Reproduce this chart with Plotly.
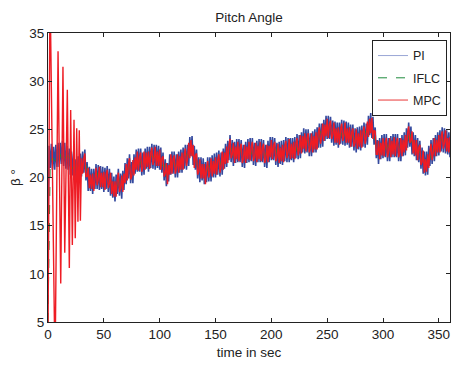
import plotly.graph_objects as go

# ---------------- data ----------------
pi_time = list(range(0, 361))  # 1-second samples
pi_values = [
    15.0, 23.3, 21.0, 23.5, 20.8, 23.2, 20.8, 23.4, 21.1, 23.6,
    21.1, 23.6, 21.4, 23.8, 21.2, 23.6, 20.9, 23.3, 20.8, 23.0,
    20.3, 22.7, 20.2, 22.5, 19.6, 21.9, 19.5, 22.2, 20.0, 22.5,
    20.1, 22.7, 20.5, 22.9, 19.7, 21.6, 18.6, 21.1, 18.6, 20.9,
    18.3, 20.9, 18.8, 21.4, 18.8, 21.3, 18.7, 21.2, 18.8, 21.1,
    18.5, 21.0, 18.8, 21.2, 18.5, 20.9, 18.1, 20.5, 17.9, 20.1,
    17.5, 20.3, 18.3, 20.9, 18.1, 20.4, 17.8, 20.7, 18.7, 21.5,
    19.3, 22.0, 19.9, 22.4, 19.4, 21.6, 19.4, 22.4, 20.4, 22.9,
    20.6, 23.0, 20.6, 23.0, 20.2, 22.6, 20.3, 23.0, 20.9, 23.2,
    20.6, 23.2, 21.0, 23.5, 20.9, 23.4, 20.8, 23.4, 21.0, 23.3,
    20.8, 23.1, 20.5, 22.6, 19.7, 21.9, 19.1, 21.5, 19.6, 22.4,
    20.3, 22.7, 20.4, 22.7, 20.0, 22.4, 20.0, 22.7, 20.5, 22.9,
    20.5, 23.1, 20.9, 23.4, 20.8, 23.4, 21.2, 24.2, 22.2, 24.3,
    21.3, 23.3, 20.8, 22.9, 19.9, 22.1, 19.5, 22.1, 19.7, 22.0,
    19.3, 21.6, 19.5, 22.1, 19.6, 22.1, 19.6, 22.3, 20.0, 22.5,
    20.0, 22.6, 20.3, 22.8, 20.1, 22.6, 20.3, 23.0, 20.9, 23.5,
    21.1, 23.8, 21.8, 24.4, 21.6, 23.9, 21.2, 23.7, 21.5, 24.0,
    21.6, 24.0, 21.6, 23.9, 21.1, 23.4, 21.0, 23.7, 21.5, 24.0,
    21.6, 24.1, 21.7, 24.1, 21.3, 23.6, 21.2, 23.8, 21.6, 24.0,
    21.6, 24.0, 21.6, 23.9, 21.1, 23.4, 21.0, 23.8, 21.6, 24.2,
    21.8, 24.2, 21.8, 24.1, 21.3, 23.6, 21.1, 23.7, 21.4, 23.8,
    21.3, 23.9, 21.7, 24.2, 21.6, 24.1, 21.6, 24.1, 21.8, 24.1,
    21.6, 24.2, 22.0, 24.5, 21.9, 24.4, 22.0, 24.7, 22.6, 25.1,
    22.5, 25.0, 22.6, 25.0, 22.2, 24.6, 22.2, 24.8, 22.6, 25.0,
    22.6, 25.2, 23.1, 25.6, 23.1, 25.6, 23.2, 26.0, 23.8, 26.4,
    24.0, 26.4, 24.0, 26.3, 23.6, 25.9, 23.3, 25.8, 23.4, 25.7,
    23.1, 25.7, 23.5, 26.0, 23.4, 25.9, 23.3, 25.8, 23.4, 25.7,
    23.1, 25.5, 23.2, 25.5, 22.8, 25.1, 22.6, 25.2, 22.9, 25.3,
    22.8, 25.4, 23.2, 25.7, 23.1, 25.6, 23.4, 26.4, 24.4, 26.7,
    24.1, 26.3, 23.4, 25.2, 22.0, 23.9, 21.4, 24.1, 21.9, 24.4,
    22.0, 24.5, 22.1, 24.5, 21.7, 24.1, 21.7, 24.3, 22.1, 24.5,
    22.1, 24.5, 22.1, 24.5, 21.7, 24.1, 21.7, 24.4, 22.2, 24.7,
    22.3, 25.1, 23.1, 25.7, 23.2, 25.3, 22.4, 24.7, 22.2, 24.4,
    21.8, 24.1, 21.6, 23.8, 20.9, 23.1, 20.4, 22.7, 20.2, 22.7,
    20.3, 23.3, 21.2, 23.9, 21.4, 24.1, 21.7, 24.4, 22.2, 24.7,
    22.3, 24.9, 22.7, 25.2, 22.6, 25.1, 22.5, 24.9, 22.4, 24.7,
    22.1,
]

iflc_time = list(range(0, 361, 2))  # 2-second samples
iflc_values = [
    5.0, 21.6, 22.1, 21.7, 22.4, 22.7, 22.0, 22.6, 22.0, 22.3,
    21.8, 20.9, 21.3, 20.4, 21.1, 21.0, 21.8, 21.3, 20.4, 19.3,
    19.8, 19.5, 20.5, 19.8, 20.1, 19.5, 20.1, 19.6, 19.7, 18.6,
    19.0, 19.0, 19.8, 18.8, 19.9, 20.2, 21.2, 20.5, 21.2, 21.1,
    22.1, 21.3, 21.9, 21.3, 22.1, 21.5, 22.3, 22.0, 22.6, 21.7,
    22.3, 21.2, 21.4, 20.1, 20.8, 21.2, 21.7, 21.1, 21.8, 21.2,
    22.0, 21.6, 22.5, 22.2, 23.4, 22.2, 22.1, 21.0, 21.3, 20.4,
    20.8, 20.2, 21.3, 20.6, 21.2, 20.9, 21.6, 21.2, 22.1, 21.6,
    22.6, 22.5, 23.3, 22.2, 22.7, 22.5, 22.9, 22.2, 22.8, 22.2,
    23.1, 22.4, 23.0, 22.1, 22.7, 22.5, 22.9, 22.2, 22.8, 22.3,
    23.3, 22.5, 23.0, 22.1, 22.6, 22.2, 23.0, 22.7, 23.4, 22.5,
    23.1, 22.7, 23.6, 23.0, 23.8, 23.4, 23.9, 23.3, 24.0, 23.3,
    24.1, 23.8, 24.8, 24.2, 25.0, 24.9, 25.3, 24.7, 25.1, 24.1,
    24.6, 24.2, 25.1, 24.3, 24.6, 24.0, 24.5, 23.9, 24.4, 23.6,
    24.3, 23.9, 24.8, 24.4, 25.6, 25.0, 24.7, 23.1, 23.2, 22.6,
    23.5, 22.8, 23.4, 22.7, 23.3, 23.0, 23.4, 22.8, 23.5, 22.9,
    23.8, 23.8, 24.9, 23.4, 23.4, 22.7, 22.9, 22.0, 22.2, 20.9,
    21.8, 21.9, 23.1, 22.7, 23.4, 23.2, 24.0, 23.7, 24.3, 23.1,
    23.3,
]

# MPC: start-up oscillation (turning points) followed by 1-second samples
mpc_time_start = [0, 1.8, 6.3, 9.0, 11.4, 13.4, 15.0, 17.3, 19.1, 20.3,
                  21.8, 23.3, 24.4, 25.7, 26.8, 28.0, 29.0, 30.0]
mpc_values_start = [3.0, 40.0, 0.0, 33.1, 9.0, 31.5, 12.2, 29.1, 10.6, 27.0,
                    13.0, 26.0, 13.7, 25.1, 15.4, 24.9, 15.5, 22.0]
mpc_time_run = list(range(31, 361))
mpc_values_run = [
    20.4, 22.0, 22.5, 20.1, 20.1, 21.0, 18.9, 20.3, 18.8,
    20.4, 18.6, 20.3, 21.0, 19.2, 19.8, 21.1, 19.0, 20.5, 19.0,
    20.6, 18.7, 20.3, 20.8, 18.9, 19.4, 20.5, 18.3, 19.6, 18.0,
    19.6, 18.0, 19.8, 20.5, 18.5, 18.9, 20.2, 18.5, 20.4, 19.4,
    21.4, 19.7, 21.4, 22.0, 19.8, 20.1, 21.8, 20.2, 22.1, 20.8,
    22.7, 20.7, 22.1, 22.6, 20.6, 21.1, 22.7, 20.8, 22.6, 21.1,
    22.7, 20.9, 22.5, 23.1, 21.3, 21.9, 23.2, 21.2, 22.7, 21.2,
    22.9, 20.8, 22.0, 22.2, 20.1, 20.4, 21.5, 19.3, 21.3, 20.3,
    22.4, 20.4, 21.9, 22.3, 20.4, 20.9, 22.4, 20.5, 22.2, 20.8,
    22.6, 20.8, 22.4, 23.0, 21.2, 21.9, 23.6, 22.0, 23.9, 22.2,
    23.4, 21.0, 22.3, 22.5, 20.3, 20.6, 21.9, 19.9, 21.4, 19.9,
    21.4, 19.3, 21.0, 21.7, 20.0, 20.6, 22.0, 20.1, 21.7, 20.4,
    22.1, 20.3, 21.8, 22.4, 20.5, 21.1, 22.7, 20.8, 22.6, 21.4,
    23.2, 21.5, 23.3, 24.0, 22.0, 22.4, 23.6, 21.5, 23.2, 21.9,
    23.7, 21.7, 23.1, 23.5, 21.5, 21.9, 23.4, 21.5, 23.2, 21.9,
    23.7, 21.8, 23.2, 23.7, 21.7, 22.1, 23.6, 21.6, 23.3, 21.9,
    23.7, 21.7, 23.1, 23.5, 21.5, 21.9, 23.4, 21.6, 23.3, 22.1,
    23.9, 21.9, 23.3, 23.7, 21.7, 22.1, 23.5, 21.5, 23.1, 21.7,
    23.4, 21.6, 23.2, 23.8, 22.0, 22.6, 24.0, 21.9, 23.5, 22.0,
    23.7, 21.9, 23.5, 24.1, 22.3, 22.9, 24.4, 22.5, 24.3, 23.0,
    24.6, 22.7, 24.1, 24.6, 22.6, 23.1, 24.6, 22.6, 24.3, 22.9,
    24.7, 22.9, 24.6, 25.2, 23.5, 24.1, 25.6, 23.8, 25.5, 24.3,
    26.1, 24.1, 25.5, 25.9, 24.0, 24.4, 25.7, 23.6, 25.1, 23.6,
    25.2, 23.4, 25.0, 25.6, 23.8, 24.4, 25.7, 23.6, 25.1, 23.6,
    25.2, 23.2, 24.7, 25.1, 23.2, 23.6, 25.0, 23.0, 24.6, 23.2,
    24.9, 23.1, 24.7, 25.3, 23.5, 24.1, 25.8, 24.2, 26.1, 24.6,
    26.2, 24.0, 24.9, 24.8, 22.4, 22.4, 23.8, 21.9, 23.6, 22.3,
    24.1, 22.2, 23.6, 24.1, 22.1, 22.6, 24.1, 22.1, 23.8, 22.4,
    24.2, 22.2, 23.6, 24.1, 22.1, 22.6, 24.1, 22.2, 23.9, 22.6,
    24.4, 22.8, 24.6, 25.3, 23.6, 23.8, 24.8, 22.5, 23.9, 22.3,
    23.9, 21.8, 23.1, 23.4, 21.3, 21.6, 22.8, 20.5, 21.9, 20.6,
    22.4, 21.0, 22.7, 23.5, 21.8, 22.6, 24.1, 22.2, 23.9, 22.6,
    24.4, 22.6, 24.2, 24.8, 23.0, 23.6, 24.9, 22.7, 24.1, 22.6,
    24.2,
]
mpc_time = mpc_time_start + mpc_time_run
mpc_values = mpc_values_start + mpc_values_run

series_names = ["PI", "IFLC", "MPC"]
x_ticks = [0, 50, 100, 150, 200, 250, 300, 350]
y_ticks = [5, 10, 15, 20, 25, 30, 35]

FONT = "Liberation Sans, Arial, Helvetica"
INK = "#222222"

# ---------------- figure ----------------
fig = go.Figure()
fig.add_trace(go.Scatter(x=pi_time, y=pi_values, mode="lines",
                         line=dict(color="#34499e", width=1.6), showlegend=False))
fig.add_trace(go.Scatter(x=iflc_time, y=iflc_values, mode="lines",
                         line=dict(color="#1e8a3c", width=1, dash="dash"), showlegend=False))
fig.add_trace(go.Scatter(x=mpc_time, y=mpc_values, mode="lines",
                         line=dict(color="#ee1c24", width=1.4), showlegend=False))

# legend entries (drawn thin, as in the reference)
legend_styles = [dict(color="#9aa6d6", width=1),
                 dict(color="#1e8a3c", width=1, dash="dash"),
                 dict(color="#f07a7a", width=1.5)]
for name, st in zip(series_names, legend_styles):
    fig.add_trace(go.Scatter(x=[None], y=[None], mode="lines", name=name,
                             legendgroup=name, line=st))

axis_common = dict(showline=True, linecolor=INK, linewidth=1, mirror="ticks",
                   ticks="inside", ticklen=4, tickcolor=INK, showgrid=False,
                   zeroline=False, tickfont=dict(family=FONT, size=13.5, color=INK))

fig.update_layout(
    width=454, height=365,
    margin=dict(l=48, r=4, t=33, b=43),
    paper_bgcolor="white", plot_bgcolor="white",
    title=dict(text="Pitch Angle", xref="paper", x=0.5, xanchor="center",
               y=0.953, yanchor="middle",
               font=dict(family=FONT, size=13.5, color=INK)),
    xaxis=dict(range=[0, 360], tickvals=x_ticks,
               title=dict(text="time in sec", standoff=6,
                          font=dict(family=FONT, size=13.5, color=INK)),
               **axis_common),
    yaxis=dict(range=[5, 35], tickvals=y_ticks,
               title=dict(text="β °", standoff=5,
                          font=dict(family=FONT, size=13.5, color=INK)),
               **axis_common),
    legend=dict(x=0.806, y=0.976, xanchor="left", yanchor="top",
                bgcolor="white", bordercolor=INK, borderwidth=1,
                font=dict(family=FONT, size=12.5, color=INK),
                itemwidth=30, tracegroupgap=3),
    showlegend=True,
)

fig.write_html("out.html", config={"displayModeBar": False},
               post_script="document.body.style.margin='0px';")
